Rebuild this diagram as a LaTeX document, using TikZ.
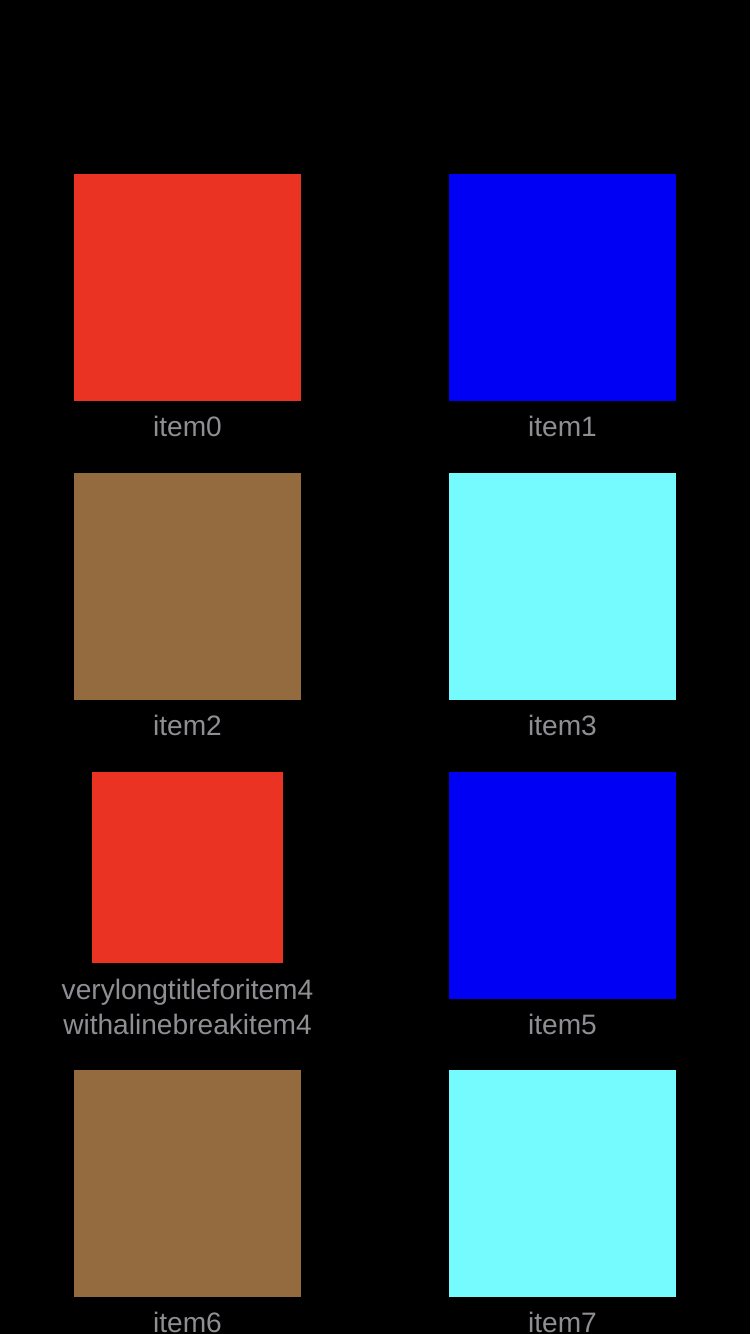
\documentclass[tikz,border=0pt]{standalone}
\usepackage{fontspec}
\setmainfont{Liberation Sans}
\usetikzlibrary{positioning}
\definecolor{tilered}{RGB}{235,51,36}
\definecolor{tileblue}{RGB}{0,0,245}
\definecolor{tilebrown}{RGB}{148,107,63}
\definecolor{tilecyan}{RGB}{117,251,253}
\definecolor{captiongray}{RGB}{142,142,147}
\tikzset{
  tile/.style={fill=#1, minimum size=2.27cm, inner sep=0pt, outer sep=0pt},
  caption/.style={text=captiongray, font=\fontsize{8}{10}\selectfont, inner sep=0pt, align=center}
}
\begin{document}
\begin{tikzpicture}
            % Fondo
            \fill[black] (0,0) rectangle (7.5,-13.34);
            \useasboundingbox (0,0) rectangle (7.5,-13.34);

            % Fila 1
            \draw node[tile=tilered] (item0) at (1.875,-2.875) {};
            \draw node[caption, below = 0.14cm of item0] (item0N) {item0};
            \draw node[tile=tileblue] (item1) at (5.625,-2.875) {};
            \draw node[caption, below = 0.14cm of item1] (item1N) {item1};

            % Fila 2
            \draw node[tile=tilebrown] (item2) at (1.875,-5.865) {};
            \draw node[caption, below = 0.14cm of item2] (item2N) {item2};
            \draw node[tile=tilecyan] (item3) at (5.625,-5.865) {};
            \draw node[caption, below = 0.14cm of item3] (item3N) {item3};

            % Fila 3
            \draw node[tile=tilered, minimum size=1.91cm] (item4) at (1.875,-8.675) {};
            \draw node[caption, below = 0.15cm of item4] (item4N) {verylongtitleforitem4\\withalinebreakitem4};
            \draw node[tile=tileblue] (item5) at (5.625,-8.855) {};
            \draw node[caption, below = 0.14cm of item5] (item5N) {item5};

            % Fila 4
            \draw node[tile=tilebrown] (item6) at (1.875,-11.835) {};
            \draw node[caption, below = 0.14cm of item6] (item6N) {item6};
            \draw node[tile=tilecyan] (item7) at (5.625,-11.835) {};
            \draw node[caption, below = 0.14cm of item7] (item7N) {item7};
\end{tikzpicture}
\end{document}
